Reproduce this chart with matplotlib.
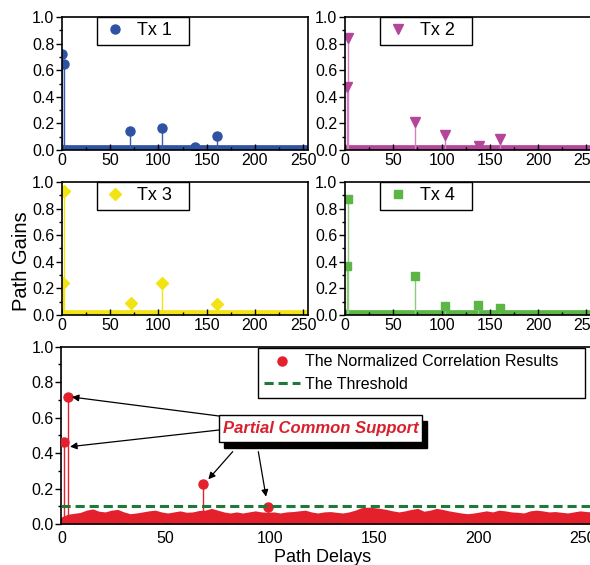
import numpy as np
import matplotlib.pyplot as plt
from matplotlib.lines import Line2D
from matplotlib.patches import Rectangle
from matplotlib.ticker import FormatStrFormatter, MultipleLocator

plt.rcParams['font.family'] = ['Liberation Sans', 'DejaVu Sans']

# path delays and gains of each transmitter
tx1_delay = [0, 2, 71, 104, 138, 161]
tx1_gain = [0.72, 0.65, 0.14, 0.165, 0.02, 0.105]
tx2_delay = [2, 3, 72, 104, 139, 161]
tx2_gain = [0.47, 0.84, 0.21, 0.11, 0.03, 0.08]
tx3_delay = [1, 2, 72, 104, 161]
tx3_gain = [0.24, 0.93, 0.09, 0.24, 0.08]
tx4_delay = [2, 3, 72, 104, 138, 161]
tx4_gain = [0.37, 0.87, 0.29, 0.07, 0.075, 0.05]

# normalized correlation: detected peaks and the noise floor
peak_delay = [1, 3, 68, 99]
peak_value = [0.465, 0.715, 0.226, 0.098]
floor_delay = np.arange(0, 256, 3)
floor_value = [0.04, 0.055, 0.06, 0.065, 0.078, 0.085, 0.072, 0.068, 0.078, 0.082,
               0.068, 0.058, 0.062, 0.068, 0.074, 0.078, 0.068, 0.062, 0.068, 0.074,
               0.066, 0.068, 0.076, 0.078, 0.088, 0.078, 0.068, 0.062, 0.068, 0.062,
               0.068, 0.074, 0.068, 0.066, 0.068, 0.062, 0.068, 0.07, 0.074, 0.078,
               0.068, 0.062, 0.068, 0.07, 0.066, 0.062, 0.068, 0.078, 0.092, 0.095,
               0.092, 0.088, 0.082, 0.074, 0.068, 0.074, 0.082, 0.088, 0.072, 0.078,
               0.088, 0.082, 0.074, 0.068, 0.062, 0.058, 0.062, 0.068, 0.074, 0.068,
               0.078, 0.074, 0.068, 0.066, 0.062, 0.074, 0.078, 0.074, 0.068, 0.07,
               0.066, 0.062, 0.068, 0.074, 0.07, 0.068]
threshold = 0.1

red = '#e3202b'
green = '#1f7a3a'
dash = (0, (3, 1.6))


def style_axis(ax, xpad):
    ax.set_xlim(0, 255)
    ax.set_ylim(0, 1)
    ax.xaxis.set_major_locator(MultipleLocator(50))
    ax.xaxis.set_minor_locator(MultipleLocator(25))
    ax.yaxis.set_major_locator(MultipleLocator(0.2))
    ax.yaxis.set_minor_locator(MultipleLocator(0.1))
    ax.yaxis.set_major_formatter(FormatStrFormatter('%.1f'))
    ax.tick_params(axis='x', which='major', direction='in', length=4, width=1,
                   pad=xpad, labelsize=11.5)
    ax.tick_params(axis='x', which='minor', direction='in', length=2.5, width=1)
    ax.tick_params(axis='y', which='major', direction='out', length=4.5, width=1,
                   pad=1, labelsize=11.5)
    ax.tick_params(axis='y', which='minor', direction='out', length=2.5, width=1)
    for s in ax.spines.values():
        s.set_linewidth(1.2)


def tx_panel(ax, delay, gain, color, stem_color, marker, ms, label):
    ml, sl, bl = ax.stem(delay, gain, basefmt=' ')
    plt.setp(sl, color=stem_color, linewidth=1)
    plt.setp(ml, color=color, marker=marker, markersize=ms)
    ax.axhline(0, color=color, linewidth=7, zorder=1)
    style_axis(ax, 2)
    leg = ax.legend([ml], [label], loc='upper left', mode='expand',
                    bbox_to_anchor=(0.142, 0.797, 0.374, 0.203), borderaxespad=0,
                    fancybox=False, edgecolor='black', framealpha=1, fontsize=13,
                    handlelength=1.4, handletextpad=0.5, borderpad=0.3)
    leg.get_frame().set_linewidth(1)


fig = plt.figure(figsize=(5.9, 5.65), dpi=100)
ax1 = fig.add_axes([0.1051, 0.7345, 0.4169, 0.2354])
ax2 = fig.add_axes([0.5847, 0.7345, 0.4175, 0.2354])
ax3 = fig.add_axes([0.1051, 0.4425, 0.4169, 0.2354])
ax4 = fig.add_axes([0.5847, 0.4425, 0.4175, 0.2354])
ax5 = fig.add_axes([0.1042, 0.0726, 0.9003, 0.3138])

tx_panel(ax1, tx1_delay, tx1_gain, '#2f52a3', '#3a5cab', 'o', 6.5, 'Tx 1')
tx_panel(ax2, tx2_delay, tx2_gain, '#b4469a', '#d27fbe', 'v', 7.5, 'Tx 2')
tx_panel(ax3, tx3_delay, tx3_gain, '#f2e414', '#f2e414', 'D', 6, 'Tx 3')
tx_panel(ax4, tx4_delay, tx4_gain, '#5bb646', '#8bcb7a', 's', 6, 'Tx 4')

# bottom: correlation results
ax5.fill_between(floor_delay, 0, floor_value, color=red, linewidth=0, zorder=2)
ax5.axhline(0, color=red, linewidth=5, zorder=2)
ml, sl, bl = ax5.stem(peak_delay, peak_value, basefmt=' ')
plt.setp(sl, color=red, linewidth=1)
plt.setp(ml, color=red, markersize=6.5, zorder=3)
ax5.axhline(threshold, color=green, linestyle=dash, linewidth=2.2, zorder=4)
style_axis(ax5, 5)

handles = [Line2D([], [], marker='o', linestyle='none', color=red, markersize=6.5),
           Line2D([], [], color=green, linestyle=dash, linewidth=2.2)]
leg = ax5.legend(handles, ['The Normalized Correlation Results', 'The Threshold'],
                 loc='upper left', mode='expand',
                 bbox_to_anchor=(0.370, 0.699, 0.6155, 0.294), borderaxespad=0,
                 fancybox=False, edgecolor='black', framealpha=1, fontsize=11.5,
                 handlelength=2.2, handletextpad=0.35, borderpad=0.4,
                 labelspacing=0.45)
leg.get_frame().set_linewidth(1)

# callout box with drop shadow
ax5.add_patch(Rectangle((78.2, 0.430), 97.2, 0.151, facecolor='black',
                        edgecolor='black', zorder=5))
ax5.add_patch(Rectangle((75.8, 0.464), 97.2, 0.151, facecolor='white',
                        edgecolor='black', linewidth=1, zorder=6))
ax5.text(124.4, 0.54, 'Partial Common Support', ha='center', va='center',
         color='#d8212c', fontsize=12, fontweight='bold', fontstyle='italic',
         zorder=7)
arrows = [((75.6, 0.609), (5.0, 0.716)),
          ((75.6, 0.530), (4.1, 0.436)),
          ((82.2, 0.408), (70.5, 0.252)),
          ((94.5, 0.408), (98.2, 0.154))]
for start, end in arrows:
    ax5.annotate('', xy=end, xytext=start, zorder=4,
                 arrowprops=dict(arrowstyle='-|>', color='black', lw=0.9,
                                 mutation_scale=10, shrinkA=0, shrinkB=0))

fig.text(0.036, 0.538, 'Path Gains', rotation=90, ha='center', va='center',
         fontsize=14.5)
fig.text(0.547, 0.0124, 'Path Delays', ha='center', va='center', fontsize=13)

fig.savefig('out.png', dpi=100)
